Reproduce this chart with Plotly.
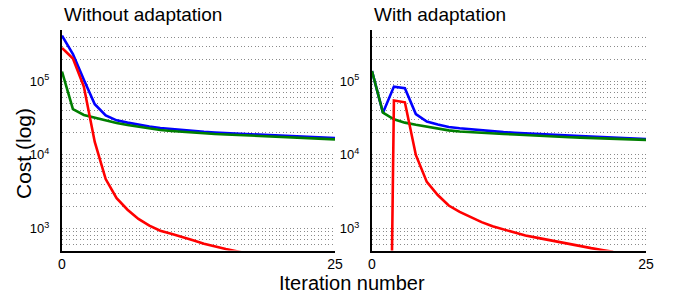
import numpy as np
import plotly.graph_objects as go

# ---------------- data ----------------
iterations = list(range(0, 26))

left_blue = [4.2e5, 2.35e5, 1.05e5, 4.9e4, 3.45e4, 2.95e4, 2.75e4, 2.58e4, 2.44e4, 2.33e4,
             2.25e4, 2.17e4, 2.11e4, 2.06e4, 2.02e4, 1.98e4, 1.95e4, 1.92e4, 1.89e4, 1.86e4,
             1.83e4, 1.80e4, 1.77e4, 1.74e4, 1.71e4, 1.69e4]
left_green = [1.36e5, 4.2e4, 3.5e4, 3.2e4, 2.95e4, 2.72e4, 2.55e4, 2.42e4, 2.28e4, 2.18e4,
              2.12e4, 2.06e4, 2.01e4, 1.97e4, 1.93e4, 1.90e4, 1.87e4, 1.84e4, 1.81e4, 1.78e4,
              1.75e4, 1.72e4, 1.69e4, 1.67e4, 1.65e4, 1.63e4]
left_red = [2.85e5, 2.05e5, 8.5e4, 1.5e4, 4.7e3, 2.58e3, 1.8e3, 1.35e3, 1.09e3, 9.3e2,
            8.45e2, 7.7e2, 6.9e2, 6.2e2, 5.65e2, 5.25e2, 4.9e2, 4.55e2]

right_blue = [1.38e5, 3.75e4, 8.5e4, 8.1e4, 3.6e4, 2.85e4, 2.6e4, 2.4e4, 2.3e4, 2.22e4,
              2.15e4, 2.09e4, 2.04e4, 2.0e4, 1.96e4, 1.93e4, 1.9e4, 1.87e4, 1.84e4, 1.81e4,
              1.78e4, 1.75e4, 1.72e4, 1.70e4, 1.67e4, 1.65e4]
right_green = [1.38e5, 3.75e4, 3.05e4, 2.75e4, 2.57e4, 2.42e4, 2.28e4, 2.16e4, 2.08e4, 2.03e4,
               2.0e4, 1.97e4, 1.93e4, 1.9e4, 1.86e4, 1.83e4, 1.8e4, 1.77e4, 1.74e4, 1.72e4,
               1.7e4, 1.68e4, 1.66e4, 1.64e4, 1.62e4, 1.60e4]
right_red = [1e-7, 1e-7, 5.5e4, 5.2e4, 1.0e4, 4.3e3, 2.85e3, 2.05e3, 1.68e3, 1.42e3,
             1.22e3, 1.07e3, 9.7e2, 8.8e2, 8.0e2, 7.5e2, 7.0e2, 6.5e2, 6.1e2, 5.75e2,
             5.4e2, 5.1e2, 4.8e2]

panel_titles = ["Without adaptation", "With adaptation"]
x_tick_vals = [0, 25]
x_tick_text = ["0", "25"]
y_min, y_max = 500, 5e5
y_tick_vals = [1e3, 1e4, 1e5]
y_tick_text = ["10<sup>3</sup>", "10<sup>4</sup>", "10<sup>5</sup>"]

# ---------------- figure ----------------
FONT = "Liberation Sans, Arial, sans-serif"
colors = {"blue": "#0000ff", "green": "#007f00", "red": "#ff0000"}

grid_vals = []
for d in range(2, 6):
    for m in range(1, 10):
        v = m * 10 ** d
        if y_min <= v <= y_max:
            grid_vals.append(v)

fig = go.Figure()

panels = [
    (left_blue, left_green, left_red, "x", "y"),
    (right_blue, right_green, right_red, "x2", "y2"),
]
for blue, green, red, xa, ya in panels:
    for vals, c in ((blue, "blue"), (green, "green"), (red, "red")):
        fig.add_trace(go.Scatter(
            x=iterations[:len(vals)], y=vals, mode="lines",
            line=dict(color=colors[c], width=2.6),
            xaxis=xa, yaxis=ya, showlegend=False, hoverinfo="skip"))

x_domains = [[62 / 686, 335 / 686], [372 / 686, 646 / 686]]
y_domain = [1 - 250.6 / 295, 1 - 30 / 295]

GRID = dict(showgrid=True, gridcolor="#8a8a8a", gridwidth=1, griddash="1px,2.5px")

common_x = dict(range=[0, 25], tickmode="array", tickvals=x_tick_vals, ticktext=x_tick_text,
                showgrid=False, zeroline=False, showline=True, linecolor="black", linewidth=2,
                ticks="", tickfont=dict(family=FONT, size=14, color="black"),
                ticklabelstandoff=0, automargin=False)
common_y = dict(type="log", range=[np.log10(y_min), np.log10(y_max)], domain=y_domain,
                tickmode="array", tickvals=y_tick_vals, ticktext=y_tick_text,
                minor=dict(tickmode="array", tickvals=grid_vals, ticks="", **GRID),
                zeroline=False, showline=True, linecolor="black", linewidth=2,
                ticks="", tickfont=dict(family=FONT, size=13, color="black"),
                ticklabelstandoff=8, automargin=False, **GRID)

fig.update_layout(
    width=686, height=295, autosize=False,
    margin=dict(l=0, r=0, t=0, b=0, pad=0),
    paper_bgcolor="white", plot_bgcolor="white",
    xaxis=dict(domain=x_domains[0], anchor="y", **common_x),
    xaxis2=dict(domain=x_domains[1], anchor="y2", **common_x),
    yaxis=dict(anchor="x", **common_y),
    yaxis2=dict(anchor="x2", **common_y),
)

fig.add_annotation(text=panel_titles[0], xref="paper", yref="paper", x=x_domains[0][0], y=1 - 15 / 295,
                   xanchor="left", yanchor="middle", showarrow=False,
                   font=dict(family=FONT, size=19, color="black"))
fig.add_annotation(text=panel_titles[1], xref="paper", yref="paper", x=x_domains[1][0], y=1 - 15 / 295,
                   xanchor="left", yanchor="middle", showarrow=False,
                   font=dict(family=FONT, size=19, color="black"))
fig.add_annotation(text="Cost (log)", xref="paper", yref="paper", x=23 / 686, y=1 - 154 / 295,
                   xanchor="center", yanchor="middle", textangle=-90, showarrow=False,
                   font=dict(family=FONT, size=21, color="black"))
fig.add_annotation(text="Iteration number", xref="paper", yref="paper", x=352 / 686, y=1 - 283 / 295,
                   xanchor="center", yanchor="middle", showarrow=False,
                   font=dict(family=FONT, size=20, color="black"))

fig.write_html("out.html", config={"displayModeBar": False},
               post_script="document.body.style.margin='0';document.body.style.overflow='hidden';")
